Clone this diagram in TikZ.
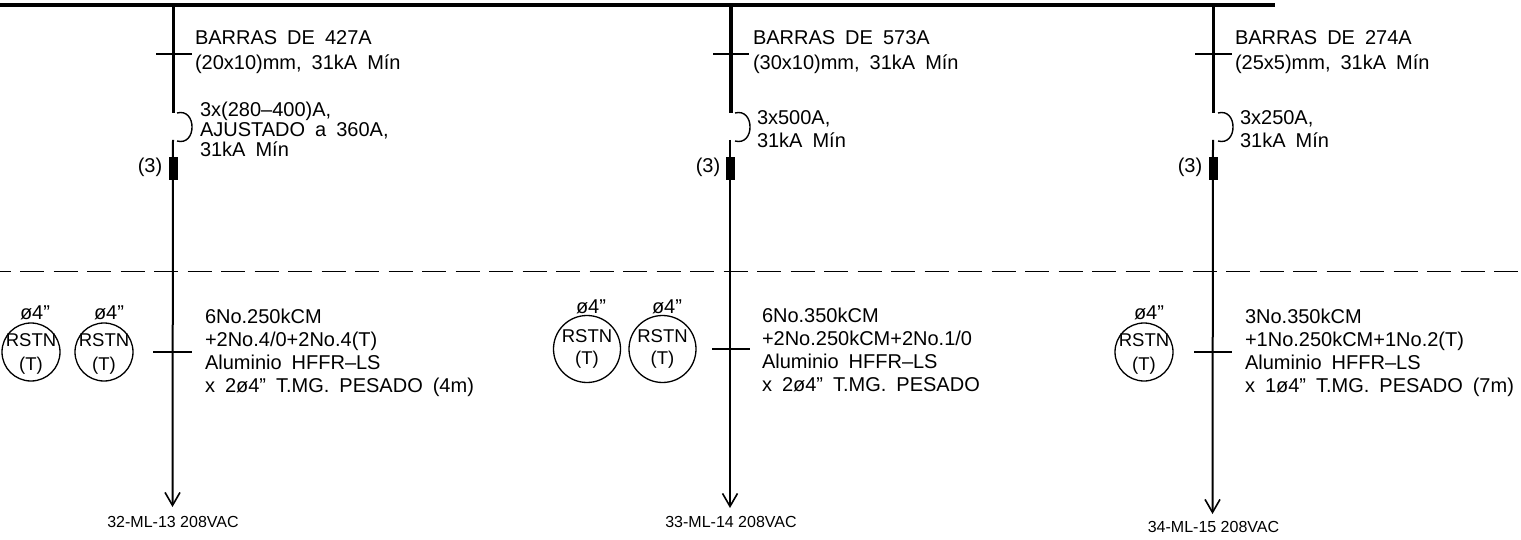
\documentclass[tikz,border=0pt]{standalone}
\usepackage{fontspec}
\setmainfont{Liberation Sans}
\usetikzlibrary{arrows.meta}

\begin{document}
\begin{tikzpicture}[x=1pt,y=-1pt]
\tikzstyle{every node}=[inner sep=0pt, outer sep=0pt]
\tikzstyle{bus}=[line width=4.5pt]
\tikzstyle{bar}=[line width=3.5pt]
\tikzstyle{wire}=[line width=2pt]
\tikzstyle{tick}=[line width=1.3pt]
\tikzstyle{hook}=[line width=1.4pt,out=15,in=-15,looseness=1.9]
\tikzstyle{fuse}=[draw=black,fill=black,minimum width=8pt,minimum height=22.5pt]
\tikzstyle{feed}=[wire,-{Straight Barb[length=13pt,width=15pt,line width=1.6pt]}]
\tikzstyle{txt}=[anchor=west,align=left,font=\fontsize{20}{22.8}\selectfont\spaceskip 10pt]
\tikzstyle{bartxt}=[txt,font=\fontsize{20}{25}\selectfont\spaceskip 10pt]
\tikzstyle{tag}=[anchor=center,font=\fontsize{20}{22}\selectfont]
\tikzstyle{load}=[anchor=center,font=\fontsize{16}{18}\selectfont]
\tikzstyle{duct}=[draw,circle,line width=1.3pt,align=center,minimum size=67pt,font=\fontsize{18.5}{22.5}\selectfont]
\tikzstyle{smallduct}=[draw,circle,line width=1.3pt,minimum size=58pt]
\tikzstyle{ducttxt}=[anchor=center,align=center,font=\fontsize{18.5}{24}\selectfont]
\useasboundingbox (0,0) rectangle (1521,540);
% main bus and separation line
\coordinate (busl) at (0,5);
\coordinate (busr) at (1275,5);
\coordinate (sepl) at (0,271.5);
\coordinate (sepr) at (1521,271.5);
\draw[bus] (busl) -- (busr);
\draw[line width=1.5pt,dash pattern=on 24pt off 9.5pt,dash phase=13.5pt] (sepl) -- (sepr);
% feeder 1
\coordinate (b1) at (173.3,5);
\coordinate (e1) at (173.3,113);
\coordinate (s1) at (173,140);
\coordinate (c1t) at (177,113);
\coordinate (c1b) at (177,141);
\coordinate (a1) at (156,54);
\coordinate (a2) at (192,54);
\coordinate (d1) at (153,352);
\coordinate (d2) at (192,352);
\coordinate (q1) at (172.5,507);
\draw[bar] (b1) -- (e1);
\draw[tick] (a1) -- (a2);
\draw[hook] (c1t) to (c1b);
\draw[feed] (s1) -- (q1);
\draw[tick] (d1) -- (d2);
\draw (172.7,168) node (f1) [fuse] {};
\draw (150,167) node (n1) [tag] {(3)};
\draw (195,52.5) node (t1) [bartxt] {BARRAS DE 427A\\(20x10)mm, 31kA Mín};
\draw (200,129) node (t2) [txt,font=\fontsize{20}{20}\selectfont\spaceskip 10pt] {3x(280–400)A,\\AJUSTADO a 360A,\\31kA Mín};
\draw (205,353) node (t3) [txt] {6No.250kCM\\+2No.4/0+2No.4(T)\\Aluminio HFFR–LS\\x 2ø4” T.MG. PESADO (4m)};
\draw (31,352) node (p1) [smallduct] {};
\draw (104,352) node (p2) [smallduct] {};
\draw (31,354) node (r1) [ducttxt] {RSTN\\(T)};
\draw (104,354) node (r2) [ducttxt] {RSTN\\(T)};
\draw (35,313) node (g1) [tag] {ø4”};
\draw (109,313) node (g2) [tag] {ø4”};
\draw (173,521.5) node (l1) [load] {32-ML-13 208VAC};
% feeder 2
\coordinate (b2) at (731,5);
\coordinate (e2) at (731,113);
\coordinate (s2) at (730,140);
\coordinate (c2t) at (735,113);
\coordinate (c2b) at (735,141);
\coordinate (a3) at (713,54);
\coordinate (a4) at (749,54);
\coordinate (d3) at (712,349);
\coordinate (d4) at (750,349);
\coordinate (q2) at (730,508);
\draw[bar] (b2) -- (e2);
\draw[tick] (a3) -- (a4);
\draw[hook] (c2t) to (c2b);
\draw[feed] (s2) -- (q2);
\draw[tick] (d3) -- (d4);
\draw (730.5,168) node (f2) [fuse] {};
\draw (708,167) node (n2) [tag] {(3)};
\draw (753,52.5) node (t4) [bartxt] {BARRAS DE 573A\\(30x10)mm, 31kA Mín};
\draw (757,129) node (t5) [txt] {3x500A,\\31kA Mín};
\draw (762,350) node (t6) [txt] {6No.350kCM\\+2No.250kCM+2No.1/0\\Aluminio HFFR–LS\\x 2ø4” T.MG. PESADO};
\draw (587,349) node (p3) [duct] {RSTN\\(T)};
\draw (662.5,349) node (p4) [duct] {RSTN\\(T)};
\draw (591,307) node (g3) [tag] {ø4”};
\draw (667,307) node (g4) [tag] {ø4”};
\draw (731,521.5) node (l2) [load] {33-ML-14 208VAC};
% feeder 3
\coordinate (b3) at (1213.5,5);
\coordinate (e3) at (1213.5,113);
\coordinate (s3) at (1213,140);
\coordinate (c3t) at (1218,113);
\coordinate (c3b) at (1218,141);
\coordinate (a5) at (1195,54);
\coordinate (a6) at (1232,54);
\coordinate (d5) at (1194,352);
\coordinate (d6) at (1232,352);
\coordinate (q3) at (1212.5,514);
\draw[bar] (b3) -- (e3);
\draw[tick] (a5) -- (a6);
\draw[hook] (c3t) to (c3b);
\draw[feed] (s3) -- (q3);
\draw[tick] (d5) -- (d6);
\draw (1213,168) node (f3) [fuse] {};
\draw (1190,167) node (n3) [tag] {(3)};
\draw (1235,52.5) node (t7) [bartxt] {BARRAS DE 274A\\(25x5)mm, 31kA Mín};
\draw (1240,129) node (t8) [txt] {3x250A,\\31kA Mín};
\draw (1245,353) node (t9) [txt] {3No.350kCM\\+1No.250kCM+1No.2(T)\\Aluminio HFFR–LS\\x 1ø4” T.MG. PESADO (7m)};
\draw (1144,352) node (p5) [smallduct] {};
\draw (1144,354) node (r5) [ducttxt] {RSTN\\(T)};
\draw (1149,313) node (g5) [tag] {ø4”};
\draw (1213.5,526.5) node (l3) [load] {34-ML-15 208VAC};
\end{tikzpicture}
\end{document}
